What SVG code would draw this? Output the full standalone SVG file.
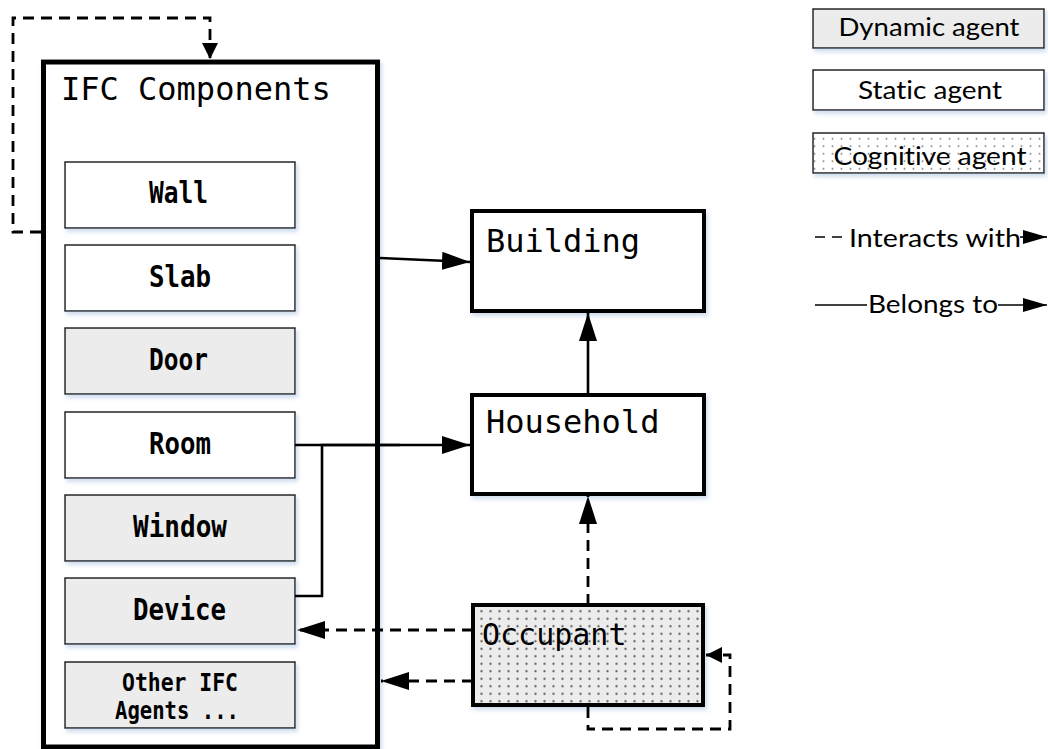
<svg xmlns="http://www.w3.org/2000/svg" width="1048" height="749" viewBox="0 0 1048 749">
<style>
.mono{font-family:"DejaVu Sans Mono","Liberation Mono",monospace;fill:#000}
.item{font-size:30px;font-weight:bold}
.big{font-size:32px}
.leg{font-family:Lato,"Open Sans","Liberation Sans",sans-serif;font-size:25px;fill:#000;font-variant-ligatures:none}
.small{fill:#fff;stroke:#222;stroke-width:1.5}
.dyn{fill:#ececec}
.thick{fill:#fff;stroke:#000;stroke-width:4}
.solid{fill:none;stroke:#000;stroke-width:2.6}
.dash{fill:none;stroke:#000;stroke-width:2.8;stroke-dasharray:11 7}
</style>
<defs>
<filter id="sh" x="-10%" y="-10%" width="130%" height="140%">
<feDropShadow dx="2" dy="3" stdDeviation="2" flood-color="#b7cbe6" flood-opacity="0.7"/>
</filter>
<pattern id="dots" width="9" height="7.5" patternUnits="userSpaceOnUse">
<rect width="9" height="7.5" fill="#ececec"/>
<circle cx="4.5" cy="3.7" r="1.2" fill="#666"/>
</pattern>
<pattern id="dotsw" width="9" height="7.5" patternUnits="userSpaceOnUse">
<rect width="9" height="7.5" fill="#fff"/>
<circle cx="4.5" cy="3.7" r="1" fill="#888"/>
</pattern>
<marker id="ah" markerUnits="userSpaceOnUse" markerWidth="30" markerHeight="20" refX="28" refY="9" orient="auto">
<path d="M0,0 L28,9 L0,18 z" fill="#000"/>
</marker>
<marker id="ahs" markerUnits="userSpaceOnUse" markerWidth="20" markerHeight="18" refX="16" refY="8" orient="auto">
<path d="M0,0 L16,8 L0,16 z" fill="#000"/>
</marker>
<marker id="ahl" markerUnits="userSpaceOnUse" markerWidth="26" markerHeight="16" refX="24" refY="7" orient="auto">
<path d="M0,0 L24,7 L0,14 z" fill="#000"/>
</marker>
</defs>
<rect width="1048" height="749" fill="#fff"/>

<g id="ifc-components">
<rect x="43.5" y="62" width="334" height="685" fill="#fff" stroke="#000" stroke-width="5" filter="url(#sh)"/>
<text class="mono big" x="61" y="100">IFC Components</text>
</g>
<g id="wall"><rect class="small" x="65" y="162" width="230" height="66" filter="url(#sh)"/><text class="mono item" x="149" y="203" textLength="59" lengthAdjust="spacingAndGlyphs">Wall</text></g>
<g id="slab"><rect class="small" x="65" y="245" width="230" height="66" filter="url(#sh)"/><text class="mono item" x="149" y="287" textLength="62" lengthAdjust="spacingAndGlyphs">Slab</text></g>
<g id="door"><rect class="small dyn" x="65" y="328" width="230" height="66" filter="url(#sh)"/><text class="mono item" x="149" y="370" textLength="59" lengthAdjust="spacingAndGlyphs">Door</text></g>
<g id="room"><rect class="small" x="65" y="412" width="230" height="66" filter="url(#sh)"/><text class="mono item" x="149" y="454" textLength="62" lengthAdjust="spacingAndGlyphs">Room</text></g>
<g id="window"><rect class="small dyn" x="65" y="495" width="230" height="66" filter="url(#sh)"/><text class="mono item" x="133" y="537" textLength="94" lengthAdjust="spacingAndGlyphs">Window</text></g>
<g id="device"><rect class="small dyn" x="65" y="578" width="230" height="66" filter="url(#sh)"/><text class="mono item" x="133" y="620" textLength="93" lengthAdjust="spacingAndGlyphs">Device</text></g>
<g id="other"><rect class="small dyn" x="65" y="662" width="230" height="66" filter="url(#sh)"/>
<text class="mono item" style="font-size:25px" x="122" y="691" textLength="116" lengthAdjust="spacingAndGlyphs">Other IFC</text>
<text class="mono item" style="font-size:25px" x="115" y="719" textLength="124" lengthAdjust="spacingAndGlyphs">Agents ...</text></g>

<g id="building"><rect class="thick" x="472" y="211" width="232" height="100" filter="url(#sh)"/><text class="mono big" x="486" y="252">Building</text></g>
<g id="household"><rect class="thick" x="472" y="395" width="232" height="99" filter="url(#sh)"/><text class="mono big" x="486" y="433">Household</text></g>
<g id="occupant"><rect x="473" y="605" width="230" height="100" fill="url(#dots)" stroke="#000" stroke-width="4" filter="url(#sh)"/><text class="mono" style="font-size:30px" x="482" y="645">Occupant</text></g>

<g id="connectors">
<path class="solid" d="M380,258 L470,262" marker-end="url(#ah)"/>
<path class="solid" d="M588,393 L588,313" marker-end="url(#ah)"/>
<path class="solid" d="M295,445 L470,445" marker-end="url(#ah)"/>
<path class="solid" d="M295,596 L322,596 L322,445 L400,445"/>
<path class="dash" d="M588,605 L588,496" marker-end="url(#ah)"/>
<path class="dash" d="M473,630 L297,630" marker-end="url(#ah)"/>
<path class="dash" d="M473,681 L381,681" marker-end="url(#ah)"/>
<path class="dash" d="M588,707 L588,729 L730,729 L730,655 L706,655" marker-end="url(#ahs)"/>
<path class="dash" d="M41,232 L13,232 L13,18 L210,18 L210,59" marker-end="url(#ahs)"/>
</g>

<g id="legend">
<rect class="small dyn" x="813" y="9" width="231" height="39" filter="url(#sh)"/>
<text class="leg" x="929" y="36" text-anchor="middle" textLength="181" lengthAdjust="spacingAndGlyphs">Dynamic agent</text>
<rect class="small" x="813" y="70" width="231" height="40" filter="url(#sh)"/>
<text class="leg" x="930" y="99" text-anchor="middle" textLength="144" lengthAdjust="spacingAndGlyphs">Static agent</text>
<rect x="813" y="133" width="231" height="40" fill="url(#dotsw)" stroke="#222" stroke-width="1.5" filter="url(#sh)"/>
<text class="leg" x="930" y="165" text-anchor="middle" textLength="193" lengthAdjust="spacingAndGlyphs">Cognitive agent</text>
<path d="M815,237 L825,237 M832,237 L842,237" stroke="#000" stroke-width="1.6"/>
<text class="leg" x="849" y="247" textLength="172" lengthAdjust="spacingAndGlyphs">Interacts with</text>
<path d="M1020,237 L1047,237" stroke="#000" stroke-width="1.6" marker-end="url(#ahl)"/>
<path d="M815,305 L867,305" stroke="#000" stroke-width="1.6"/>
<text class="leg" x="868" y="313" textLength="130" lengthAdjust="spacingAndGlyphs">Belongs to</text>
<path d="M998,305 L1047,305" stroke="#000" stroke-width="1.6" marker-end="url(#ahl)"/>
</g>
</svg>
